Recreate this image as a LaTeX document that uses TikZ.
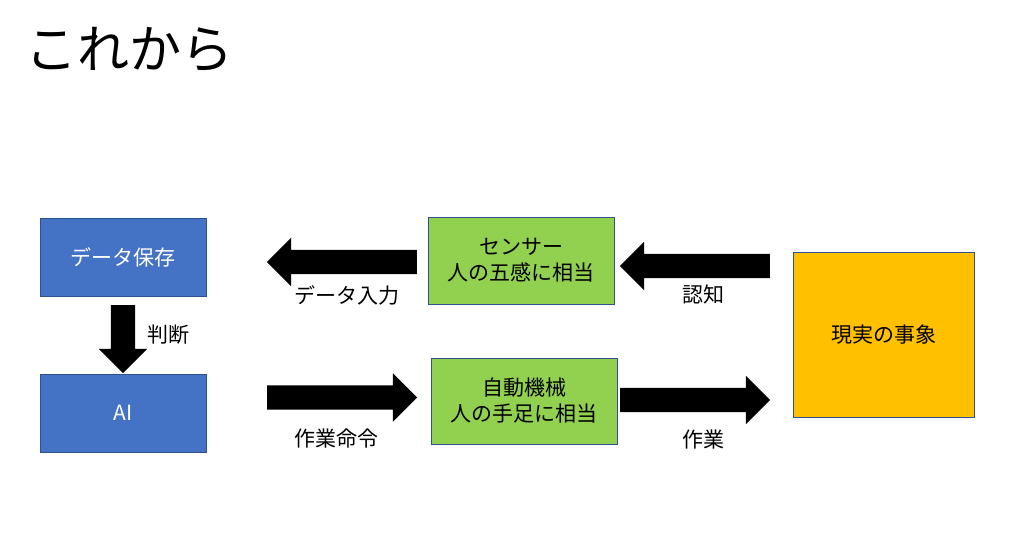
\documentclass[tikz,border=0pt]{standalone}
\usepackage{fontspec}
\setmainfont{Noto Sans CJK JP}
\usetikzlibrary{shapes.arrows}
\definecolor{boxBlue}{HTML}{4472C4}
\definecolor{boxGreen}{HTML}{92D050}
\definecolor{boxOrange}{HTML}{FFC000}
\definecolor{edgeBlue}{HTML}{2F528F}
\begin{document}
\begin{tikzpicture}[x=1pt,y=-1pt,
  box/.style={draw=edgeBlue, line width=1pt, inner sep=0, align=center, font=\fontsize{21}{26}\selectfont},
  blockarrow/.style={single arrow, fill=black, inner sep=12, minimum width=48, single arrow head extend=12, single arrow head indent=0},
  lbl/.style={inner sep=0, font=\fontsize{21}{26}\selectfont}]
\useasboundingbox (0,0) rectangle (1033,544);
\node[anchor=west, inner sep=0, font=\fontsize{52}{60}\selectfont] (title) at (25,50) {これから};
\node[box, fill=boxBlue, text=white, minimum width=166, minimum height=78] (store) at (123,257) {データ保存};
\node[box, fill=boxBlue, text=white, minimum width=166, minimum height=78] (ai) at (123,413) {AI};
\node[box, fill=boxGreen, minimum width=186, minimum height=87] (sensor) at (521,260.5) {センサー\\人の五感に相当};
\node[box, fill=boxGreen, minimum width=186, minimum height=86] (machine) at (524,401) {自動機械\\人の手足に相当};
\node[box, fill=boxOrange, minimum width=181, minimum height=165] (real) at (883.5,334.5) {現実の事象};
\node[blockarrow, minimum height=68, rotate=-90] (judgeArrow) at (123,333) {};
\node[blockarrow, minimum height=150, rotate=180] (inputArrow) at (348,262) {};
\node[blockarrow, minimum height=150] (orderArrow) at (336,397.5) {};
\node[blockarrow, minimum height=150, rotate=180] (senseArrow) at (701,266) {};
\node[blockarrow, minimum height=150] (workArrow) at (689,400) {};
\node[lbl] (judge) at (168,335) {判断};
\node[lbl] (input) at (347,295) {データ入力};
\node[lbl] (order) at (336,439) {作業命令};
\node[lbl] (sense) at (703,294) {認知};
\node[lbl] (work) at (703,440) {作業};
\end{tikzpicture}
\end{document}
